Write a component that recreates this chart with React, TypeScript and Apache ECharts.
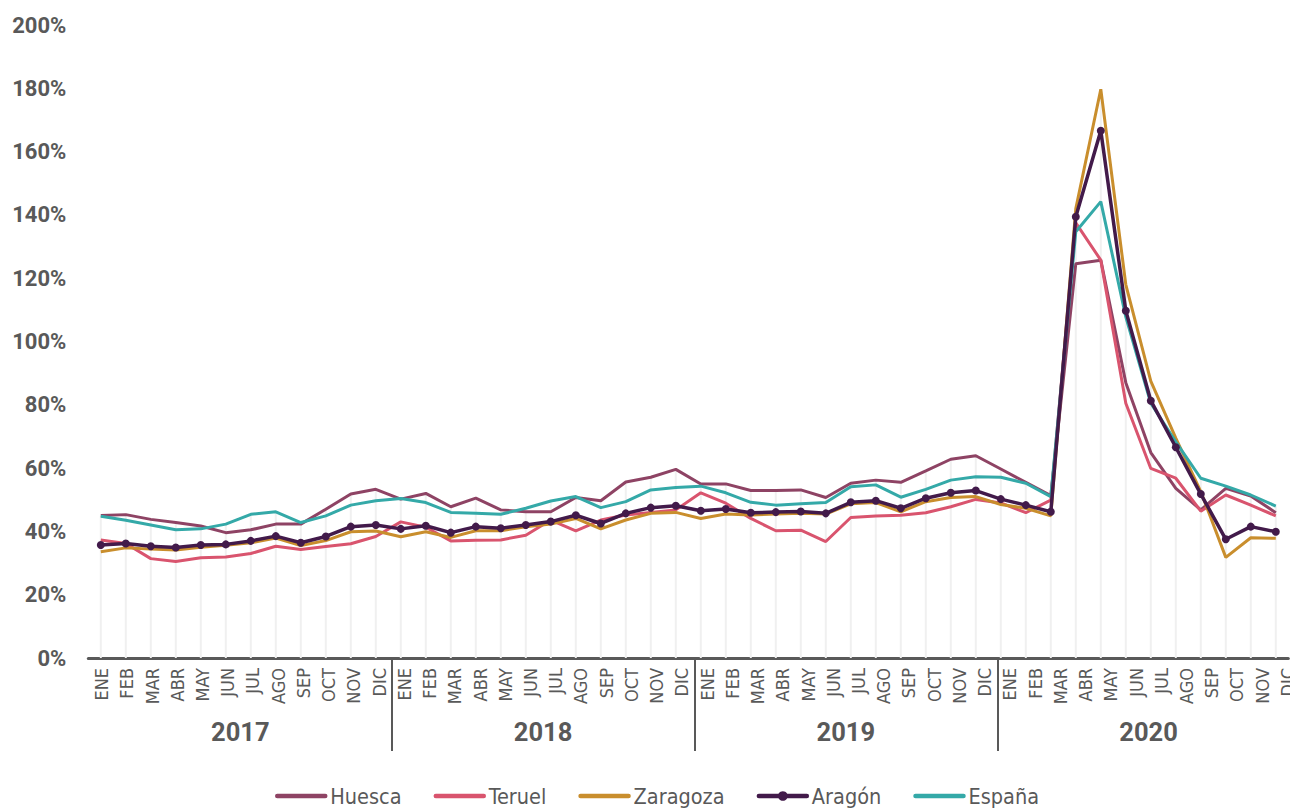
import React, { useEffect, useRef } from "react";
import * as echarts from "echarts";

const months = ["ENE", "FEB", "MAR", "ABR", "MAY", "JUN", "JUL", "AGO", "SEP", "OCT", "NOV", "DIC"];
const years = ["2017", "2018", "2019", "2020"];
const yTicks = { min: 0, max: 200, interval: 20 };

const huesca = [
  45.0, 45.3, 43.8, 42.8, 41.7, 39.6, 40.5, 42.3, 42.3, 47.0, 51.8, 53.3,
  50.2, 52.0, 47.8, 50.5, 46.8, 46.2, 46.2, 50.7, 49.7, 55.6, 57.1, 59.6,
  55.0, 55.0, 52.9, 52.9, 53.1, 50.7, 55.2, 56.2, 55.5, 59.1, 62.8, 63.9,
  59.7, 55.5, 51.3, 124.6, 125.7, 87.0, 64.9, 53.6, 46.8, 53.6, 51.2, 45.9,
];
const teruel = [
  37.3, 36.2, 31.4, 30.5, 31.7, 31.9, 33.0, 35.3, 34.3, 35.2, 36.1, 38.4,
  43.0, 41.3, 37.0, 37.2, 37.3, 38.8, 43.6, 40.2, 43.6, 45.2, 46.0, 46.8,
  52.2, 48.9, 44.1, 40.2, 40.4, 36.8, 44.4, 44.9, 45.1, 45.9, 47.8, 50.1,
  49.0, 45.9, 49.9, 137.5, 125.7, 80.5, 59.9, 56.8, 46.4, 51.5, 48.3, 44.9,
];
const zaragoza = [
  33.6, 34.8, 34.4, 34.1, 35.0, 35.6, 36.4, 37.9, 35.5, 37.1, 39.9, 40.1,
  38.3, 39.9, 38.1, 40.2, 40.2, 41.5, 42.3, 44.1, 40.8, 43.6, 45.7, 46.0,
  44.1, 45.5, 45.2, 45.5, 45.7, 45.5, 48.7, 49.1, 46.2, 49.4, 50.7, 51.0,
  48.5, 47.3, 44.9, 142.0, 179.7, 118.0, 87.5, 69.5, 52.6, 31.8, 38.0, 37.8,
];
const aragon = [
  35.7, 36.2, 35.3, 34.9, 35.7, 35.9, 37.0, 38.5, 36.4, 38.4, 41.5, 42.0,
  40.8, 41.8, 39.6, 41.5, 41.0, 42.0, 43.1, 45.1, 42.5, 45.7, 47.5, 48.1,
  46.5, 47.1, 45.9, 46.1, 46.3, 45.7, 49.2, 49.7, 47.3, 50.5, 52.2, 52.9,
  50.2, 48.3, 46.2, 139.4, 166.6, 109.7, 81.3, 66.6, 51.8, 37.5, 41.5, 39.9,
];
const espana = [
  44.8, 43.5, 42.0, 40.5, 40.8, 42.3, 45.4, 46.2, 42.8, 44.9, 48.3, 49.7,
  50.4, 49.1, 46.0, 45.7, 45.4, 47.3, 49.6, 51.0, 47.5, 49.4, 53.1, 53.9,
  54.3, 52.2, 49.2, 48.3, 48.7, 49.1, 54.1, 54.7, 50.8, 53.3, 56.2, 57.3,
  57.1, 55.2, 51.0, 134.7, 144.2, 107.8, 80.5, 68.3, 56.8, 54.3, 51.5, 48.0,
];

const seriesNames = ["Huesca", "Teruel", "Zaragoza", "Aragón", "España"];
const seriesColors = ["#8E4364", "#D9546E", "#C98E2D", "#421A4A", "#34A9A8"];

const categories = years.flatMap((y) => months.map((m) => `${m}-${y}`));
const dropLines = categories.map((_, i) =>
  Math.max(huesca[i], teruel[i], zaragoza[i], aragon[i], espana[i])
);

const TEXT = "#595959";
const NARROW = "'Liberation Sans Narrow', 'Arial Narrow', 'DejaVu Sans Condensed', 'Roboto Condensed', sans-serif";

export default function App() {
  const ref = useRef<HTMLDivElement>(null);
  useEffect(() => {
    if (!ref.current) return;
    const chart = echarts.init(ref.current, null, { renderer: "svg" });
    const values = [huesca, teruel, zaragoza, aragon, espana];
    const lineSeries = seriesNames.map((name, k) => ({
      name,
      type: "line",
      xAxisIndex: 0,
      yAxisIndex: 0,
      data: values[k],
      symbol: name === "Aragón" ? "circle" : "none",
      symbolSize: 8,
      showSymbol: name === "Aragón",
      z: name === "Aragón" ? 5 : 3,
      lineStyle: { color: seriesColors[k], width: name === "Aragón" ? 3.5 : 3 },
      itemStyle: { color: seriesColors[k] },
      emphasis: { disabled: true },
    }));
    chart.setOption({
      animation: false,
      grid: [
        { left: 88.3, width: 1200, top: 25, height: 633 },
        { left: 89, width: 1211, top: 25, height: 633 },
      ],
      legend: {
        data: seriesNames.map((name) => ({
          name,
          itemStyle: name === "Aragón" ? undefined : { opacity: 0 },
        })),
        left: 270,
        top: 780,
        itemWidth: 48,
        itemHeight: 12,
        itemGap: 32,
        lineStyle: { width: 4.5, cap: "round" },
        textStyle: { color: TEXT, fontSize: 21.5, fontFamily: NARROW },
      },
      xAxis: [
        {
          type: "category",
          gridIndex: 0,
          data: categories,
          boundaryGap: true,
          axisLine: { show: true, lineStyle: { color: TEXT, width: 3 } },
          axisTick: { show: false },
          axisLabel: { show: false },
          splitLine: { show: false },
        },
        {
          type: "category",
          gridIndex: 1,
          data: categories,
          boundaryGap: true,
          axisLine: { show: false },
          axisTick: { show: false },
          axisLabel: {
            interval: 0,
            rotate: 90,
            margin: 10,
            color: TEXT,
            fontSize: 18,
            fontFamily: NARROW,
            formatter: (v: string) => v.split("-")[0],
          },
        },
        {
          type: "category",
          gridIndex: 1,
          data: years,
          boundaryGap: true,
          position: "bottom",
          axisLine: { show: false },
          axisTick: {
            show: true,
            length: 93,
            interval: (i: number) => i !== 0,
            lineStyle: { color: TEXT, width: 2 },
          },
          axisLabel: {
            interval: 0,
            margin: 61,
            color: TEXT,
            fontSize: 25.5,
            fontWeight: "bold",
            fontFamily: "Roboto, sans-serif",
          },
        },
      ],
      yAxis: [
        {
          type: "value",
          gridIndex: 0,
          ...yTicks,
          axisLine: { show: false },
          axisTick: { show: false },
          splitLine: { show: false },
          axisLabel: {
            formatter: "{value}%",
            margin: 22,
            color: TEXT,
            fontSize: 22,
            fontWeight: "bold",
            fontFamily: "Roboto, sans-serif",
          },
        },
        {
          type: "value",
          gridIndex: 1,
          ...yTicks,
          show: false,
        },
      ],
      series: [
        {
          name: "drop",
          type: "bar",
          xAxisIndex: 0,
          yAxisIndex: 0,
          data: dropLines,
          barWidth: 2,
          silent: true,
          z: 1,
          itemStyle: { color: "#F0F0F0" },
        },
        ...lineSeries,
      ],
    });
    return () => chart.dispose();
  }, []);
  return (
    <div
      ref={ref}
      style={{ position: "fixed", left: 0, top: 0, width: 1310, height: 808, background: "#fff" }}
    />
  );
}
